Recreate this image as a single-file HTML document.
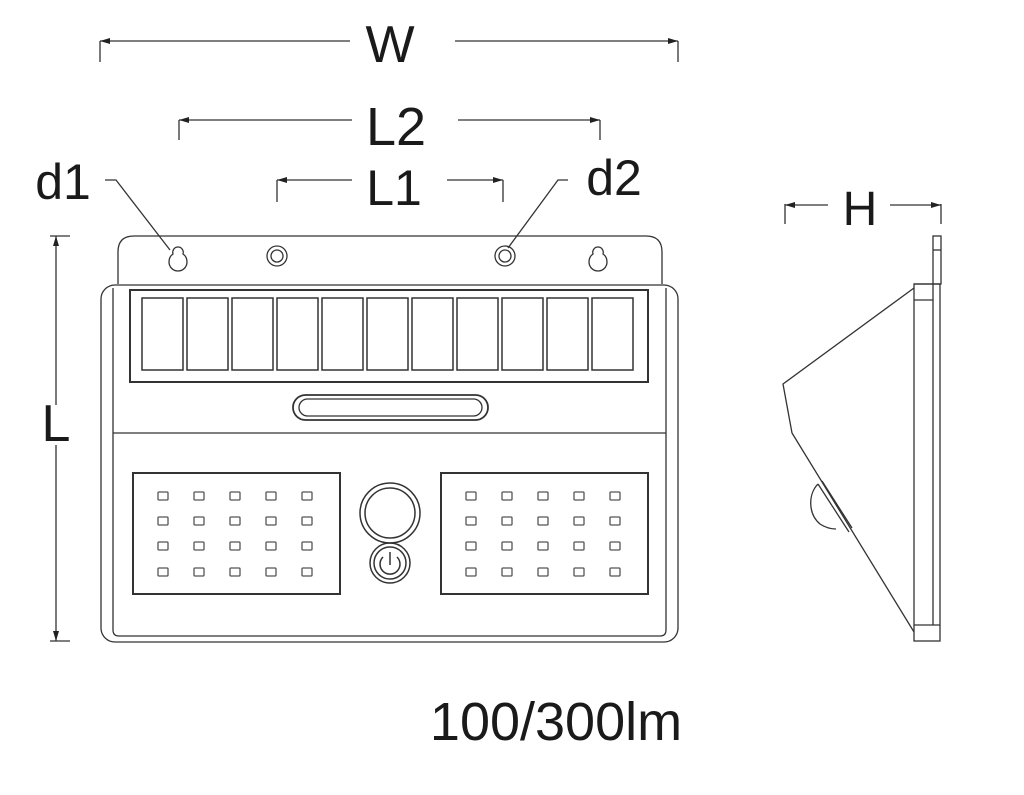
<!DOCTYPE html>
<html><head><style>body{margin:0;background:#fff}svg{display:block}text{font-family:"Liberation Sans",sans-serif;fill:#1a1a1a}</style></head>
<body>
<svg width="1024" height="795" viewBox="0 0 1024 795" xmlns="http://www.w3.org/2000/svg">
<defs><marker id="a" viewBox="0 0 10 6" refX="10" refY="3" markerWidth="10" markerHeight="6" orient="auto-start-reverse" markerUnits="userSpaceOnUse"><path d="M0,0L10,3L0,6z" fill="#222"/></marker></defs>
<g stroke="#333" stroke-width="1.3" fill="none">
<path d="M100,62V41M678,41V62"/>
<line x1="100" y1="41" x2="350" y2="41" marker-start="url(#a)"/>
<line x1="455" y1="41" x2="678" y2="41" marker-end="url(#a)"/>
<path d="M179,140V120M600,120V140"/>
<line x1="179" y1="120" x2="352" y2="120" marker-start="url(#a)"/>
<line x1="458" y1="120" x2="600" y2="120" marker-end="url(#a)"/>
<path d="M277,202V180M503,180V202"/>
<line x1="277" y1="180" x2="352" y2="180" marker-start="url(#a)"/>
<line x1="447" y1="180" x2="503" y2="180" marker-end="url(#a)"/>
<path d="M105,180H116L170,250"/>
<path d="M568,180H558L508,248"/>
<path d="M50,236H70M50,641H70"/>
<line x1="56" y1="236" x2="56" y2="405" marker-start="url(#a)"/>
<line x1="56" y1="445" x2="56" y2="641" marker-end="url(#a)"/>
<path d="M785,224V204M941,204V224"/>
<line x1="785" y1="205" x2="828" y2="205" marker-start="url(#a)"/>
<line x1="890" y1="205" x2="941" y2="205" marker-end="url(#a)"/>
<path d="M118,284V252Q118,236 134,236H646Q662,236 662,252V284"/>
<path d="M178,247c-4,0-6,4-5,7c-3,2-4,5-4,8c0,5,4,9,9,9s9-4,9-9c0-3-1-6-4-8c1-3-1-7-5-7z"/>
<path d="M598,247c-4,0-6,4-5,7c-3,2-4,5-4,8c0,5,4,9,9,9s9-4,9-9c0-3-1-6-4-8c1-3-1-7-5-7z"/>
<circle cx="277" cy="256" r="10"/><circle cx="277" cy="256" r="6"/>
<circle cx="505" cy="256" r="10"/><circle cx="505" cy="256" r="6"/>
<rect x="101" y="285" width="577" height="357" rx="14"/>
<path d="M113,288V630Q113,636 119,636H660Q666,636 666,630V288"/>
<rect x="130" y="290" width="518" height="92" stroke-width="2"/>
<line x1="113" y1="433" x2="666" y2="433"/>
<rect x="293" y="395" width="195" height="25" rx="12.5" stroke-width="1.8"/>
<rect x="299" y="399" width="183" height="17" rx="8.5"/>
</g>
<g stroke="#333" stroke-width="1.5" fill="none">
<rect x="142" y="298" width="41" height="72"/><rect x="187" y="298" width="41" height="72"/><rect x="232" y="298" width="41" height="72"/><rect x="277" y="298" width="41" height="72"/><rect x="322" y="298" width="41" height="72"/><rect x="367" y="298" width="41" height="72"/><rect x="412" y="298" width="41" height="72"/><rect x="457" y="298" width="41" height="72"/><rect x="502" y="298" width="41" height="72"/><rect x="547" y="298" width="41" height="72"/><rect x="592" y="298" width="41" height="72"/>
<rect x="133" y="473" width="207" height="121" stroke-width="2"/>
<rect x="441" y="473" width="207" height="121" stroke-width="2"/>
<circle cx="390" cy="513" r="30"/><circle cx="390" cy="513" r="25"/>
<circle cx="390" cy="563" r="20"/><circle cx="390" cy="563" r="16"/>
<path d="M383,557a10,10 0 1 0 14,0M390,552V565"/>
</g>
<g fill="none" stroke="#555" stroke-width="1.3">
<g id="dots">
<rect x="158" y="492" width="10" height="8" rx="1"/><rect x="194" y="492" width="10" height="8" rx="1"/><rect x="230" y="492" width="10" height="8" rx="1"/><rect x="266" y="492" width="10" height="8" rx="1"/><rect x="302" y="492" width="10" height="8" rx="1"/>
<rect x="158" y="517" width="10" height="8" rx="1"/><rect x="194" y="517" width="10" height="8" rx="1"/><rect x="230" y="517" width="10" height="8" rx="1"/><rect x="266" y="517" width="10" height="8" rx="1"/><rect x="302" y="517" width="10" height="8" rx="1"/>
<rect x="158" y="542" width="10" height="8" rx="1"/><rect x="194" y="542" width="10" height="8" rx="1"/><rect x="230" y="542" width="10" height="8" rx="1"/><rect x="266" y="542" width="10" height="8" rx="1"/><rect x="302" y="542" width="10" height="8" rx="1"/>
<rect x="158" y="568" width="10" height="8" rx="1"/><rect x="194" y="568" width="10" height="8" rx="1"/><rect x="230" y="568" width="10" height="8" rx="1"/><rect x="266" y="568" width="10" height="8" rx="1"/><rect x="302" y="568" width="10" height="8" rx="1"/>
</g>
<use href="#dots" x="308"/>
</g>
<g stroke="#333" stroke-width="1.3" fill="none">
<rect x="933" y="236" width="8" height="48"/>
<line x1="933" y1="250" x2="941" y2="250"/>
<path d="M914,284H933V300H914"/>
<rect x="914" y="284" width="26" height="357"/>
<line x1="933" y1="300" x2="933" y2="625"/>
<line x1="914" y1="625" x2="940" y2="625"/>
<path d="M914,288L783,384L792,433L914,632"/>
<path d="M818,484c-10,10-10,30,2,40c6,4,12,5,16,5"/>
<path d="M818,484L849,532M822,481L852,528"/>
</g>
<text x="390" y="62" font-size="52" text-anchor="middle">W</text>
<text x="396" y="145" font-size="54" text-anchor="middle">L2</text>
<text x="394" y="205" font-size="50" text-anchor="middle">L1</text>
<text x="63" y="199" font-size="50" text-anchor="middle">d1</text>
<text x="614" y="195" font-size="50" text-anchor="middle">d2</text>
<text x="56" y="441" font-size="52" text-anchor="middle">L</text>
<text x="860" y="225" font-size="48" text-anchor="middle">H</text>
<text x="556" y="740" font-size="54" text-anchor="middle">100/300lm</text>
</svg>
</body></html>
